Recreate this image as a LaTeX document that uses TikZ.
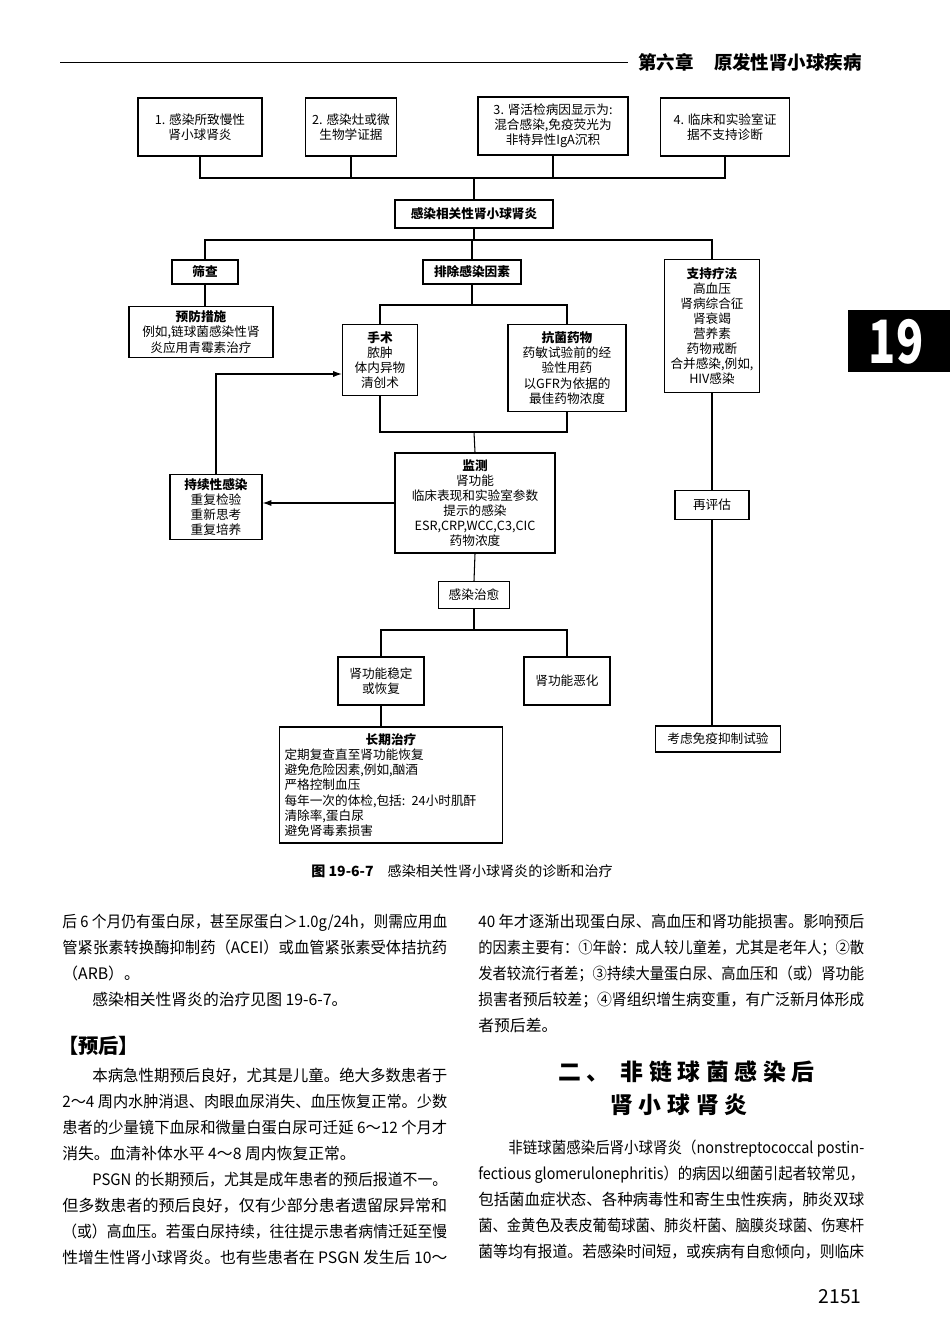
\documentclass[tikz,border=0pt]{standalone}
\usepackage{fontspec}
\usepackage{graphicx}
\setmainfont{Noto Sans CJK SC}
\usetikzlibrary{arrows.meta}
\tikzset{
  bx/.style={draw, line width=0.7pt, inner sep=1pt, align=center, font=\fontsize{7.2}{8.6}\selectfont},
  ln/.style={line width=0.6pt},
  arr/.style={ln, -{Latex[length=5pt,width=3.5pt]}},
  body/.style={anchor=north west, inner sep=0pt, font=\fontsize{9}{12}\selectfont},
}
\newcommand{\jline}[4]{\node[body] at (#1,#2) {\resizebox{#3cm}{\height}{#4}};}
\newcommand{\rline}[3]{\node[body] at (#1,#2) {#3};}
\begin{document}
\begin{tikzpicture}[x=0.02cm,y=-0.02cm]
\useasboundingbox (0,0) rectangle (950,1337);
% header
\draw[line width=0.5pt] (60,62) -- (628,62);
\node[anchor=west, inner sep=0pt, font=\fontsize{10.5}{12}\selectfont\bfseries] (hd) at (638,62) {第六章\hspace{1.1em}原发性肾小球疾病};
\fill (848,310) rectangle (950,372);
\node[font=\fontsize{34}{36}\selectfont\bfseries, text=white, inner sep=0pt] (tab) at (896,342) {\addfontfeature{FakeStretch=0.75}19};
% diagram nodes
\node[bx, minimum width=124*0.02cm, minimum height=58*0.02cm] (b1) at (200,127) {1. 感染所致慢性\\肾小球肾炎};
\node[bx, minimum width=91*0.02cm, minimum height=58*0.02cm] (b2) at (351,127) {2. 感染灶或微\\生物学证据};
\node[bx, minimum width=150*0.02cm, minimum height=58*0.02cm] (b3) at (553,126) {3. 肾活检病因显示为:\\混合感染,免疫荧光为\\非特异性IgA沉积};
\node[bx, minimum width=129*0.02cm, minimum height=58*0.02cm] (b4) at (725,127) {4. 临床和实验室证\\据不支持诊断};
\node[bx, minimum width=158*0.02cm, minimum height=28*0.02cm, font=\fontsize{7.2}{8.6}\selectfont\bfseries] (main) at (474,214) {感染相关性肾小球肾炎};
\node[bx, minimum width=66*0.02cm, minimum height=24*0.02cm, font=\fontsize{7.2}{8.6}\selectfont\bfseries] (sc) at (205,272) {筛查};
\node[bx, minimum width=98*0.02cm, minimum height=24*0.02cm, font=\fontsize{7.2}{8.6}\selectfont\bfseries] (pc) at (472,272) {排除感染因素};
\node[bx, minimum width=95*0.02cm, minimum height=133*0.02cm] (zc) at (712,326) {\textbf{支持疗法}\\高血压\\肾病综合征\\肾衰竭\\营养素\\药物戒断\\合并感染,例如,\\HIV感染};
\node[bx, minimum width=144*0.02cm, minimum height=51*0.02cm] (yf) at (201,332) {\textbf{预防措施}\\例如,链球菌感染性肾\\炎应用青霉素治疗};
\node[bx, minimum width=75*0.02cm, minimum height=71*0.02cm] (ss) at (380,360) {\textbf{手术}\\脓肿\\体内异物\\清创术};
\node[bx, minimum width=118*0.02cm, minimum height=87*0.02cm] (kj) at (567,368) {\textbf{抗菌药物}\\药敏试验前的经\\验性用药\\以GFR为依据的\\最佳药物浓度};
\node[bx, minimum width=160*0.02cm, minimum height=100*0.02cm] (jc) at (475,503) {\textbf{监测}\\肾功能\\临床表现和实验室参数\\提示的感染\\ESR,CRP,WCC,C3,CIC\\药物浓度};
\node[bx, minimum width=92*0.02cm, minimum height=65*0.02cm] (cx) at (216,507) {\textbf{持续性感染}\\重复检验\\重新思考\\重复培养};
\node[bx, minimum width=71*0.02cm, minimum height=27*0.02cm] (zy) at (474,595) {感染治愈};
\node[bx, minimum width=86*0.02cm, minimum height=48*0.02cm] (wd) at (381,681) {肾功能稳定\\或恢复};
\node[bx, minimum width=86*0.02cm, minimum height=48*0.02cm] (eh) at (567,681) {肾功能恶化};
\node[bx, minimum width=223*0.02cm, minimum height=116*0.02cm, text width=213*0.02cm, align=left] (cq) at (391,785) {{\centering\bfseries 长期治疗\par}\raggedright 定期复查直至肾功能恢复\\避免危险因素,例如,酗酒\\严格控制血压\\每年一次的体检,包括: 24小时肌酐\\清除率,蛋白尿\\避免肾毒素损害};
\node[bx, minimum width=74*0.02cm, minimum height=29*0.02cm] (pg) at (712,505) {再评估};
\node[bx, minimum width=125*0.02cm, minimum height=26*0.02cm] (ky) at (718,739) {考虑免疫抑制试验};
% connectors
\coordinate (bus1) at (474,178);
\coordinate (bus2) at (474,240);
\coordinate (bus3) at (472,305);
\coordinate (bus4) at (474,432);
\coordinate (bus5) at (474,630);
\coordinate (ssin) at (ss.west |- 0,374);
\draw[ln] (b1.south) |- (bus1); \draw[ln] (b2.south) |- (bus1);
\draw[ln] (b3.south) |- (bus1); \draw[ln] (b4.south) |- (bus1);
\draw[ln] (bus1) -- (main.north);
\draw[ln] (main.south) -- (bus2);
\draw[ln] (sc.north) |- (bus2); \draw[ln] (pc.north) |- (bus2); \draw[ln] (zc.north) |- (bus2);
\draw[ln] (sc.south) -- (sc.south |- yf.north);
\draw[ln] (pc.south) -- (bus3);
\draw[ln] (ss.north) |- (bus3); \draw[ln] (kj.north) |- (bus3);
\draw[ln] (ss.south) |- (bus4); \draw[ln] (kj.south) |- (bus4);
\draw[ln] (bus4) -- (jc.north);
\draw[arr] (jc.west) -- (jc.west -| cx.east);
\draw[arr] (cx.north) |- (ssin);
\draw[ln] (jc.south) -- (zy.north);
\draw[ln] (zy.south) -- (bus5);
\draw[ln] (wd.north) |- (bus5); \draw[ln] (eh.north) |- (bus5);
\draw[ln] (wd.south) -- (wd.south |- cq.north);
\draw[ln] (zc.south) -- (pg.north);
\draw[ln] (pg.south) -- (pg.south |- ky.north);
% caption
\node[inner sep=0pt, font=\fontsize{8}{9}\selectfont] (cap) at (462,871) {\textbf{图 19-6-7}\hspace{1em}感染相关性肾小球肾炎的诊断和治疗};
% left column
\jline{62}{914}{7.7}{后 6 个月仍有蛋白尿，甚至尿蛋白＞1.0g/24h，则需应用血}
\jline{62}{940}{7.7}{管紧张素转换酶抑制药（ACEI）或血管紧张素受体拮抗药}
\rline{62}{966}{（ARB）。}
\rline{92}{992}{感染相关性肾炎的治疗见图 19-6-7。}
\node[body, font=\fontsize{11.5}{13}\selectfont\bfseries] (yh) at (58,1036) {【预后】};
\jline{92}{1068}{7.1}{本病急性期预后良好，尤其是儿童。绝大多数患者于}
\jline{62}{1094}{7.7}{2～4 周内水肿消退、肉眼血尿消失、血压恢复正常。少数}
\jline{62}{1120}{7.7}{患者的少量镜下血尿和微量白蛋白尿可迁延 6～12 个月才}
\rline{62}{1146}{消失。血清补体水平 4～8 周内恢复正常。}
\jline{92}{1172}{7.1}{PSGN 的长期预后，尤其是成年患者的预后报道不一。}
\jline{62}{1198}{7.7}{但多数患者的预后良好，仅有少部分患者遗留尿异常和}
\jline{62}{1224}{7.7}{（或）高血压。若蛋白尿持续，往往提示患者病情迁延至慢}
\jline{62}{1250}{7.7}{性增生性肾小球肾炎。也有些患者在 PSGN 发生后 10～}
% right column
\jline{478}{914}{7.72}{40 年才逐渐出现蛋白尿、高血压和肾功能损害。影响预后}
\jline{478}{940}{7.72}{的因素主要有：①年龄：成人较儿童差，尤其是老年人；②散}
\jline{478}{966}{7.72}{发者较流行者差；③持续大量蛋白尿、高血压和（或）肾功能}
\jline{478}{992}{7.72}{损害者预后较差；④肾组织增生病变重，有广泛新月体形成}
\rline{478}{1018}{者预后差。}
\node[anchor=west, inner sep=0pt, font=\fontsize{13}{14}\selectfont\bfseries] (t1) at (558,1072) {\addfontfeature{LetterSpace=25}二、 非链球菌感染后};
\node[anchor=west, inner sep=0pt, font=\fontsize{13}{14}\selectfont\bfseries] (t2) at (610,1105) {\addfontfeature{LetterSpace=25}肾小球肾炎};
\jline{508}{1140}{7.12}{非链球菌感染后肾小球肾炎（nonstreptococcal postin-}
\jline{478}{1166}{7.72}{fectious glomerulonephritis）的病因以细菌引起者较常见，}
\jline{478}{1192}{7.72}{包括菌血症状态、各种病毒性和寄生虫性疾病，肺炎双球}
\jline{478}{1218}{7.72}{菌、金黄色及表皮葡萄球菌、肺炎杆菌、脑膜炎球菌、伤寒杆}
\jline{478}{1244}{7.72}{菌等均有报道。若感染时间短，或疾病有自愈倾向，则临床}
\node[inner sep=0pt, font=\fontsize{11}{12}\selectfont] (pn) at (840,1297) {2151};
\end{tikzpicture}
\end{document}
